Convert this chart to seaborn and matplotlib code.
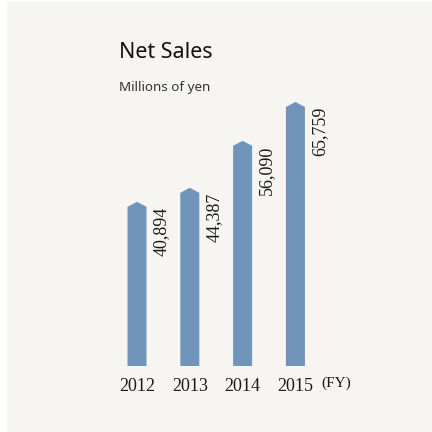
import matplotlib
matplotlib.use("Agg")
import matplotlib.pyplot as plt
from matplotlib.patches import Polygon, Rectangle
import seaborn as sns
import pandas as pd

# Fiscal years and net sales (millions of yen)
years = ["2012", "2013", "2014", "2015"]
net_sales = [40894, 44387, 56090, 65759]
value_labels = ["40,894", "44,387", "56,090", "65,759"]

df = pd.DataFrame({"year": years, "sales": net_sales})

sns.set_theme(style="white")
plt.rcParams["font.family"] = ["Liberation Serif", "DejaVu Serif"]

BAR_COLOR = "#7195ba"
PANEL_COLOR = "#f6f5f1"
TEXT_COLOR = "#1a1a1a"

fig = plt.figure(figsize=(4.32, 4.32), dpi=100, facecolor="white")
# light panel behind the chart
fig.patches.append(Rectangle((7 / 432, 0), 1 - 7 / 432, 430 / 432,
                             transform=fig.transFigure, facecolor=PANEL_COLOR,
                             edgecolor="none", zorder=-10))

ax = fig.add_axes([0.256, 0.1528, 0.489, 0.6505])
ax.set_facecolor("none")

sns.barplot(data=df, x="year", y="sales", color=BAR_COLOR, width=0.36,
            saturation=1, ax=ax)
ax.set_ylim(0, 70000)
ax.set_xlim(-0.5, 3.5)

# turn each bar into an arrow-like shape with a pointed cap
cap = 1245
for patch in list(ax.patches):
    x0 = patch.get_x()
    w = patch.get_width()
    h = patch.get_height()
    poly = Polygon([(x0, 0), (x0 + w, 0), (x0 + w, h - cap), (x0 + w / 2, h),
                    (x0, h - cap)], closed=True, facecolor=BAR_COLOR,
                   edgecolor="none", zorder=2)
    patch.remove()
    ax.add_patch(poly)

# value labels running up beside each bar
for i, (v, lab) in enumerate(zip(net_sales, value_labels)):
    ax.text(i + 0.294, v - cap, lab, rotation=90, ha="left", va="top",
            fontsize=13, color=TEXT_COLOR, family=["Liberation Serif"])

for s in ax.spines.values():
    s.set_visible(False)
ax.set_yticks([])
ax.set_xlabel("")
ax.set_ylabel("")
ax.tick_params(axis="x", length=0, pad=9, labelsize=13, colors=TEXT_COLOR)
for t in ax.get_xticklabels():
    t.set_family(["Liberation Serif"])

ax.text(3.776, -0.06, "(FY)", transform=ax.get_xaxis_transform(),
        ha="center", va="center", fontsize=11, color=TEXT_COLOR,
        family=["Liberation Serif"])

fig.text(119 / 432, 1 - 53 / 432, "Net Sales", ha="left", va="center",
         fontsize=15.5, color="#111111", family=["Noto Sans", "DejaVu Sans"])
fig.text(119 / 432, 1 - 88 / 432, "Millions of yen", ha="left", va="center",
         fontsize=9.7, color="#333333", family=["Noto Sans", "DejaVu Sans"])

fig.savefig("out.png", dpi=100, facecolor="white")
